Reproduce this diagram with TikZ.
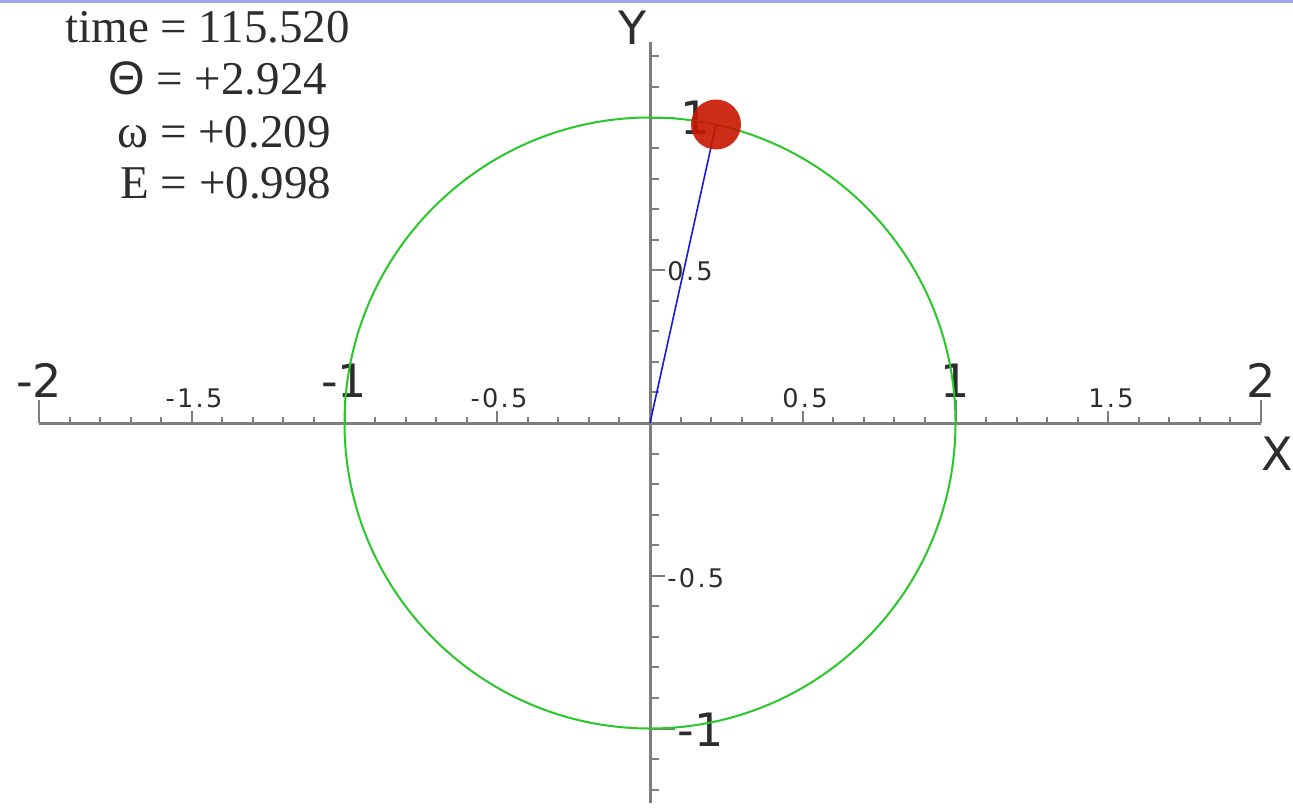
\documentclass[tikz,border=0pt]{standalone}
\usepackage{fontspec}
\setmainfont{Liberation Serif}
\newfontfamily\axfont{DejaVu Sans}
\newfontfamily\axsmallfont[LetterSpace=9]{DejaVu Sans}
\newfontfamily\thetafont{Liberation Sans}
\definecolor{axisgray}{RGB}{125,125,125}
\definecolor{labeldark}{RGB}{45,45,45}
\definecolor{circgreen}{RGB}{40,200,40}
\definecolor{rodblue}{RGB}{25,25,225}
\definecolor{ballred}{RGB}{200,22,0}
\definecolor{topline}{RGB}{165,165,235}
\tikzset{
  axisline/.style={draw=axisgray, line width=1.5pt},
  tickline/.style={draw=axisgray, line width=1pt},
  biglabel/.style={inner sep=0pt, text=labeldark, font=\axfont\fontsize{23pt}{27pt}\selectfont},
  smalllabel/.style={inner sep=0pt, text=labeldark, font=\axsmallfont\fontsize{12.8pt}{15pt}\selectfont},
  infotext/.style={inner sep=0pt, anchor=base west, text=labeldark, font=\fontsize{23.5pt}{28pt}\selectfont},
}
\begin{document}
\begin{tikzpicture}[x=0.5pt,y=-0.5pt]
\useasboundingbox (0,0) rectangle (1293,808);
\fill[white] (0,0) rectangle (1293,808);
\fill[topline] (0,0) rectangle (1293,3);

% axes
\coordinate (xl) at (39,423);
\coordinate (xr) at (1261,423);
\coordinate (yt) at (650,42);
\coordinate (yb) at (650,803);
\coordinate (O) at (650,423);
\draw[axisline] (xl) -- (xr);
\draw[axisline] (yt) -- (yb);

% x ticks
\foreach \i in {-20,...,20}{
  \ifnum\i=0\relax\else
    \pgfmathtruncatemacro\mten{mod(abs(\i),10)}
    \pgfmathtruncatemacro\mfive{mod(abs(\i),5)}
    \ifnum\mten=0 \def\len{23}\else\ifnum\mfive=0 \def\len{12}\else\def\len{6}\fi\fi
    \draw[tickline] ({650+30.55*\i},423) -- ++(0,-\len);
  \fi}
% y ticks
\foreach \i in {-12,...,12}{
  \ifnum\i=0\relax\else
    \pgfmathtruncatemacro\mten{mod(abs(\i),10)}
    \pgfmathtruncatemacro\mfive{mod(abs(\i),5)}
    \ifnum\mten=0 \def\len{25}\else\ifnum\mfive=0 \def\len{15}\else\def\len{9}\fi\fi
    \draw[tickline] (650,{423-30.55*\i}) -- ++(\len,0);
  \fi}

% x labels
\node[biglabel, anchor=base] (xm2) at (39,397) {-2};
\node[biglabel, anchor=base] (xm1) at (344,397) {-1};
\node[biglabel, anchor=base] (xp1) at (955,397) {1};
\node[biglabel, anchor=base] (xp2) at (1261,397) {2};
\node[smalllabel, anchor=base] (xm15) at (194,407) {-1.5};
\node[smalllabel, anchor=base] (xm05) at (499,407) {-0.5};
\node[smalllabel, anchor=base] (xp05) at (805,407) {0.5};
\node[smalllabel, anchor=base] (xp15) at (1111,407) {1.5};
% y labels
\node[smalllabel, anchor=base west] (yp05) at (667,280) {0.5};
\node[smalllabel, anchor=base west] (ym05) at (667,587) {-0.5};
\node[biglabel, anchor=base west] (yp1) at (680,134) {1};
\node[biglabel, anchor=base west] (ym1) at (677,746) {-1};
% axis names
\node[biglabel, anchor=base] (ylab) at (633,45) {Y};
\node[biglabel, anchor=base] (xlab) at (1277,470) {X};

% circle
\draw[draw=circgreen, line width=1pt] (O) circle[radius=305.5];

% pendulum
\coordinate (bob) at (716,124.5);
\draw[draw=rodblue, line width=0.8pt] (O) -- (bob);
\node[circle, fill=ballred, fill opacity=0.9, minimum size=25pt, inner sep=0pt] (ball) at (bob) {};

% info text
\node[infotext] (t1) at (65,43) {time = 115.520};
\node[infotext] (t2) at (108,95) {{\thetafont Θ} = +2.924};
\node[infotext] (t3) at (117,147) {ω = +0.209};
\node[infotext] (t4) at (120,198) {E = +0.998};
\end{tikzpicture}
\end{document}
